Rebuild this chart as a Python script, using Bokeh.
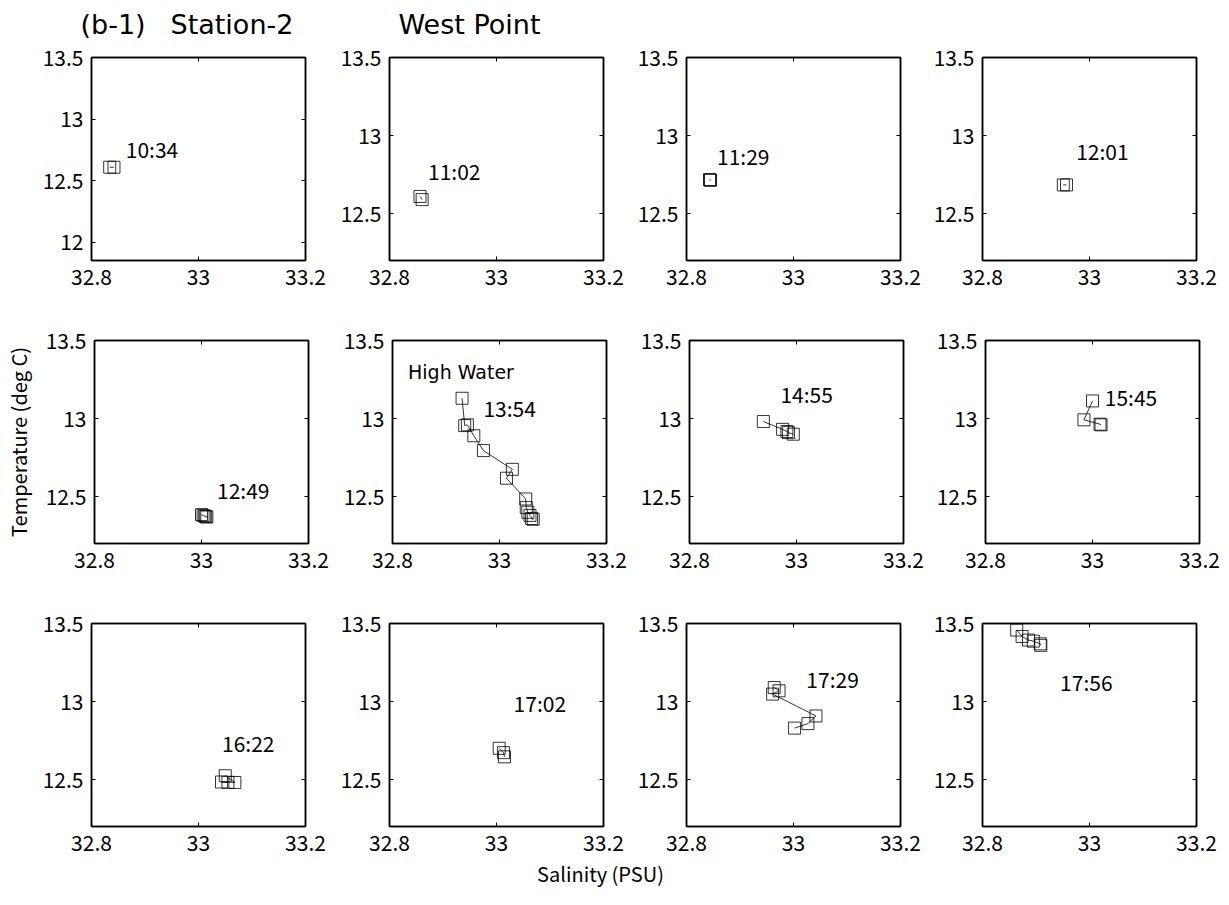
from bokeh.plotting import figure
from bokeh.models import (Range1d, FixedTicker, NumeralTickFormatter, LinearAxis,
                          Label, CustomLabelingPolicy, ColumnDataSource)
from bokeh.layouts import column, row
from bokeh.embed import file_html
from bokeh.resources import INLINE

# ---------------- data ----------------
times = ["10:34", "11:02", "11:29", "12:01", "12:49", "13:54",
         "14:55", "15:45", "16:22", "17:02", "17:29", "17:56"]

sal_1034 = [32.834, 32.842]
temp_1034 = [12.608, 12.608]
sal_1102 = [32.857, 32.861]
temp_1102 = [12.61, 12.59]
sal_1129 = [32.843, 32.845, 32.844]
temp_1129 = [12.718, 12.714, 12.716]
sal_1201 = [32.951, 32.957]
temp_1201 = [12.684, 12.684]
sal_1249 = [33.0, 33.003, 33.006, 33.01, 33.008]
temp_1249 = [12.385, 12.38, 12.376, 12.37, 12.372]
sal_1354 = [32.930, 32.935, 32.940, 32.952, 32.970, 33.024, 33.013,
            33.049, 33.050, 33.053, 33.057, 33.063, 33.060]
temp_1354 = [13.13, 12.955, 12.96, 12.89, 12.795, 12.675, 12.618,
             12.485, 12.43, 12.40, 12.38, 12.355, 12.36]
sal_1455 = [32.938, 32.974, 32.982, 32.985, 32.994]
temp_1455 = [12.981, 12.931, 12.917, 12.91, 12.90]
sal_1545 = [33.0, 32.984, 33.014, 33.016]
temp_1545 = [13.113, 12.992, 12.964, 12.96]
sal_1622 = [33.05, 33.068, 33.043, 33.055]
temp_1622 = [12.525, 12.482, 12.485, 12.483]
sal_1702 = [33.005, 33.013, 33.015]
temp_1702 = [12.701, 12.673, 12.646]
sal_1729 = [32.964, 32.973, 32.961, 33.042, 33.027, 33.002]
temp_1729 = [13.09, 13.069, 13.048, 12.908, 12.859, 12.83]
sal_1756 = [32.864, 32.874, 32.886, 32.895, 32.908, 32.909]
temp_1756 = [13.458, 13.417, 13.394, 13.387, 13.37, 13.36]

salinity = [sal_1034, sal_1102, sal_1129, sal_1201, sal_1249, sal_1354,
            sal_1455, sal_1545, sal_1622, sal_1702, sal_1729, sal_1756]
temperature = [temp_1034, temp_1102, temp_1129, temp_1201, temp_1249, temp_1354,
               temp_1455, temp_1545, temp_1622, temp_1702, temp_1729, temp_1756]

# time-label anchor (left edge, vertical middle) in data units
label_sal = [32.864, 32.872, 32.857, 32.975, 33.029, 32.970,
             32.970, 33.023, 33.044, 33.032, 33.024, 32.945]
label_temp = [12.758, 12.776, 12.87, 12.904, 12.543, 13.066,
              13.156, 13.141, 12.737, 12.994, 13.144, 13.126]

x_ticks = [32.8, 33.0, 33.2]
y_ticks = [12.0, 12.5, 13.0, 13.5]
x_limits = (32.8, 33.2)
y_limits_first = (11.85, 13.5)
y_limits_other = (12.2, 13.5)

title_parts = ["(b-1)", "Station-2", "West Point"]
high_water_text = "High Water"
xlabel_text = "Salinity (PSU)"
ylabel_text = "Temperature (deg C)"

# ---------------- styling ----------------
TICK_FONT = "Noto Sans CJK JP"
FRAME_W, FRAME_H = 214, 203
col_borders = [(91, 25), (59, 25), (58, 25), (57, 25)]
row_borders = [(15, 63), (17, 63), (17, 34)]


def style_axis(ax, ticks, labels=True):
    ax.ticker = FixedTicker(ticks=ticks)
    ax.formatter = NumeralTickFormatter(format="0.[0]")
    ax.major_tick_in = 4
    ax.major_tick_out = 0
    ax.minor_tick_line_color = None
    ax.axis_line_color = "black"
    ax.axis_line_width = 1.5
    ax.major_tick_line_color = "black"
    ax.major_tick_line_width = 1
    ax.major_label_text_font = TICK_FONT
    ax.major_label_text_color = "black"
    if labels:
        ax.major_label_text_font_size = "21px"
        ax.major_label_standoff = 8
    else:
        ax.major_label_text_font_size = "1px"
        ax.major_label_standoff = 0
        ax.major_label_policy = CustomLabelingPolicy(code="return []")


def make_panel(i, r, c):
    ylim = y_limits_first if i == 0 else y_limits_other
    lb, rb = col_borders[c]
    tb, bb = row_borders[r]
    p = figure(frame_width=FRAME_W, frame_height=FRAME_H,
               x_range=Range1d(*x_limits), y_range=Range1d(*ylim),
               output_backend="svg", toolbar_location=None,
               min_border_left=lb, min_border_right=rb,
               min_border_top=tb, min_border_bottom=bb)
    p.grid.visible = False
    p.outline_line_color = "black"
    p.outline_line_width = 1.5
    p.background_fill_color = "white"
    p.border_fill_color = "white"
    style_axis(p.xaxis[0], x_ticks)
    style_axis(p.yaxis[0], y_ticks)
    top = LinearAxis()
    style_axis(top, x_ticks, labels=False)
    p.add_layout(top, "above")
    right = LinearAxis()
    style_axis(right, y_ticks, labels=False)
    p.add_layout(right, "right")

    src = ColumnDataSource(dict(s=salinity[i], t=temperature[i]))
    p.line("s", "t", source=src, line_color="black", line_width=0.8)
    p.scatter("s", "t", source=src, marker="square", size=12,
              fill_color=None, line_color="black", line_width=0.8)
    p.add_layout(Label(x=label_sal[i], y=label_temp[i], text=times[i],
                       text_font=TICK_FONT, text_font_size="21px",
                       text_align="left", text_baseline="middle",
                       text_color="black"))
    if i == 5:
        p.add_layout(Label(x=32.829, y=13.30, text=high_water_text,
                           text_font="DejaVu Sans", text_font_size="19px",
                           text_align="left", text_baseline="middle",
                           text_color="black"))
    if i == 4:
        ax = p.yaxis[0]
        ax.axis_label = ylabel_text
        ax.axis_label_text_font = TICK_FONT
        ax.axis_label_text_font_size = "20px"
        ax.axis_label_text_font_style = "normal"
        ax.axis_label_text_color = "black"
        ax.axis_label_standoff = 10
    return p


rows = []
for r in range(3):
    rows.append(row([make_panel(r * 4 + c, r, c) for c in range(4)], spacing=0))

# title strip
tfig = figure(width=1229, height=42, x_range=Range1d(0, 1229), y_range=Range1d(0, 42),
              output_backend="svg", toolbar_location=None, min_border=0,
              x_axis_type=None, y_axis_type=None)
tfig.grid.visible = False
tfig.outline_line_color = None
for part, xpos in zip(title_parts, [80, 170, 398]):
    tfig.add_layout(Label(x=xpos, y=18, text=part, text_font="DejaVu Sans",
                          text_font_size="27px", text_align="left",
                          text_baseline="middle", text_color="black"))

# x-label strip
xfig = figure(width=1229, height=45, x_range=Range1d(0, 1229), y_range=Range1d(0, 45),
              output_backend="svg", toolbar_location=None, min_border=0,
              x_axis_type=None, y_axis_type=None)
xfig.grid.visible = False
xfig.outline_line_color = None
xfig.add_layout(Label(x=600, y=32, text=xlabel_text, text_font=TICK_FONT,
                      text_font_size="20px", text_align="center",
                      text_baseline="middle", text_color="black"))

layout = column([tfig] + rows + [xfig], spacing=0)
open("out.html", "w").write(file_html(layout, INLINE))
